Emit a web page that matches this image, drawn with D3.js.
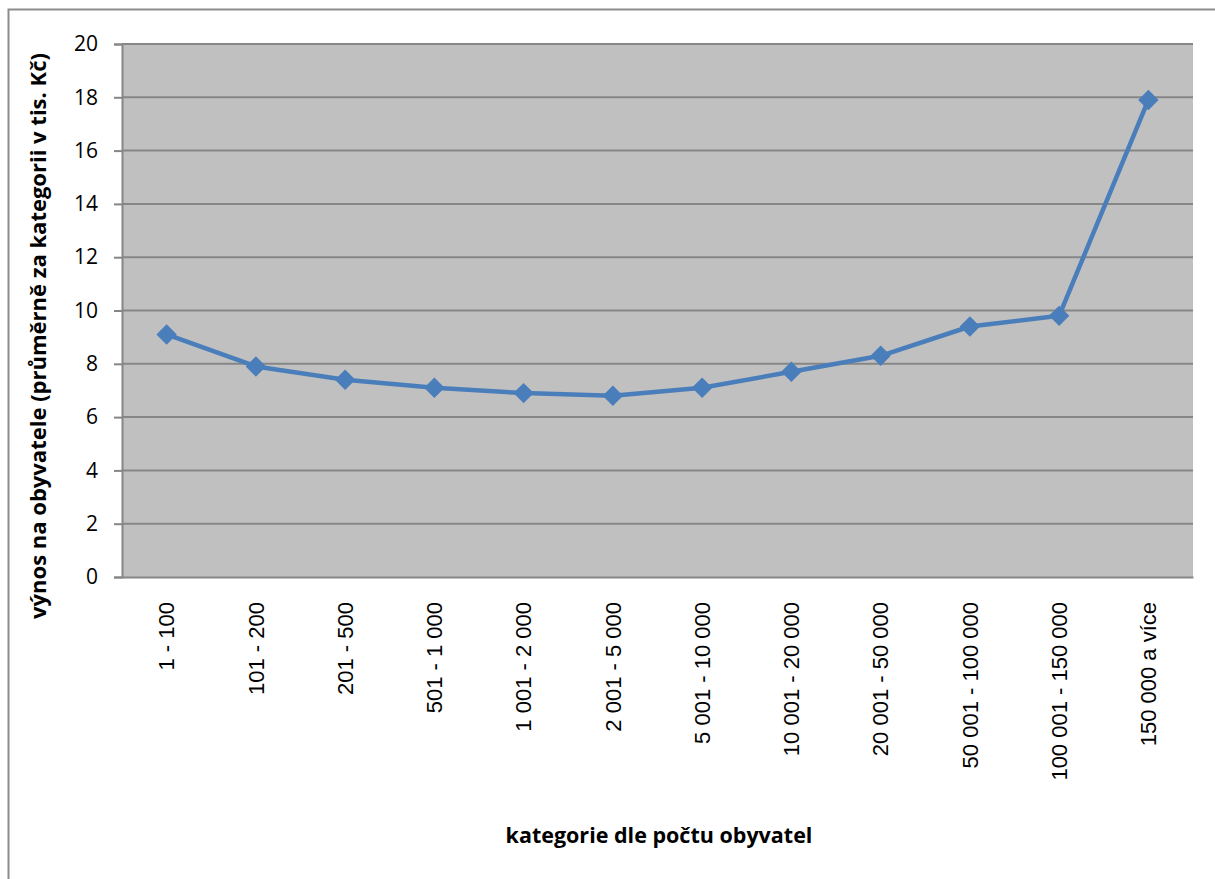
<!DOCTYPE html>
<html>
<head>
<meta charset="utf-8">
<script src="https://cdn.jsdelivr.net/npm/d3@7/dist/d3.min.js"></script>
<style>
  html, body { margin: 0; padding: 0; background: #fff; }
  svg { display: block; }
</style>
</head>
<body>
<svg id="chart" width="1215" height="879"></svg>
<script>
// Population size categories of municipalities
const categories = [
  "1 - 100", "101 - 200", "201 - 500", "501 - 1 000", "1 001 - 2 000",
  "2 001 - 5 000", "5 001 - 10 000", "10 001 - 20 000", "20 001 - 50 000",
  "50 001 - 100 000", "100 001 - 150 000", "150 000 a více"
];
// Average revenue per inhabitant (thousand CZK)
const revenue = [9.1, 7.9, 7.4, 7.1, 6.9, 6.8, 7.1, 7.7, 8.3, 9.4, 9.8, 17.9];
const yTicks = [0, 2, 4, 6, 8, 10, 12, 14, 16, 18, 20];

const svg = d3.select("#chart");
const plot = { left: 122, right: 1193, top: 44, bottom: 577 };

// outer chart frame
svg.append("rect")
  .attr("x", 8.5).attr("y", 9.5)
  .attr("width", 1240).attr("height", 900)
  .attr("fill", "none").attr("stroke", "#8c8c8c").attr("stroke-width", 2);

const x = d3.scaleBand().domain(categories).range([plot.left, plot.right]);
const y = d3.scaleLinear().domain([0, 20]).range([plot.bottom, plot.top]);

// plot background
svg.append("rect")
  .attr("x", plot.left).attr("y", plot.top)
  .attr("width", plot.right - plot.left).attr("height", plot.bottom - plot.top)
  .attr("fill", "#c0c0c0");

// horizontal gridlines
svg.append("g").selectAll("line").data(yTicks.filter(d => d > 0)).join("line")
  .attr("x1", plot.left).attr("x2", plot.right)
  .attr("y1", d => y(d)).attr("y2", d => y(d))
  .attr("stroke", "#868686").attr("stroke-width", 2);

// y axis
const yAxis = svg.append("g")
  .attr("transform", `translate(${plot.left},0)`)
  .call(d3.axisLeft(y).tickValues(yTicks).tickSize(8).tickPadding(16).tickFormat(d3.format("d")));
yAxis.select(".domain").attr("stroke", "#868686").attr("stroke-width", 2);
yAxis.selectAll(".tick line").attr("stroke", "#868686").attr("stroke-width", 2);
yAxis.selectAll(".tick text")
  .attr("fill", "#000")
  .style("font-family", "'Open Sans', 'Liberation Sans', sans-serif")
  .style("font-size", "21px");

// x axis
const xAxis = svg.append("g")
  .attr("transform", `translate(0,${plot.bottom})`)
  .call(d3.axisBottom(x).tickSize(0).tickPadding(0));
xAxis.select(".domain").attr("stroke", "#868686").attr("stroke-width", 2);
xAxis.selectAll(".tick text")
  .attr("fill", "#000")
  .attr("transform", "rotate(-90)")
  .attr("text-anchor", "end")
  .attr("x", -25).attr("y", 0).attr("dy", "0.35em")
  .style("font-family", "'Liberation Sans', Arial, sans-serif")
  .style("font-size", "22px");

// data line
const line = d3.line()
  .x((d, i) => x(categories[i]) + x.bandwidth() / 2)
  .y(d => y(d));
svg.append("path")
  .datum(revenue)
  .attr("d", line)
  .attr("fill", "none")
  .attr("stroke", "#4a7ebb")
  .attr("stroke-width", 4.5)
  .attr("stroke-linejoin", "round");

// diamond markers
const diamond = d3.symbol().type(d3.symbolSquare).size(180);
svg.append("g").selectAll("path").data(revenue).join("path")
  .attr("d", diamond)
  .attr("transform", (d, i) => `translate(${x(categories[i]) + x.bandwidth() / 2},${y(d)}) rotate(45)`)
  .attr("fill", "#4a7ebb")
  .attr("stroke", "#4a7ebb")
  .attr("stroke-width", 1);

// axis titles
svg.append("text")
  .attr("x", 659).attr("y", 843)
  .attr("text-anchor", "middle")
  .style("font-family", "'Open Sans', 'Liberation Sans', sans-serif")
  .style("font-weight", "bold")
  .style("font-size", "21.5px")
  .text("kategorie dle počtu obyvatel");

svg.append("text")
  .attr("transform", "translate(46,336) rotate(-90)")
  .attr("text-anchor", "middle")
  .style("font-family", "'Open Sans', 'Liberation Sans', sans-serif")
  .style("font-weight", "bold")
  .style("font-size", "22px")
  .text("výnos na obyvatele (průměrně za kategorii v tis. Kč)");
</script>
</body>
</html>
